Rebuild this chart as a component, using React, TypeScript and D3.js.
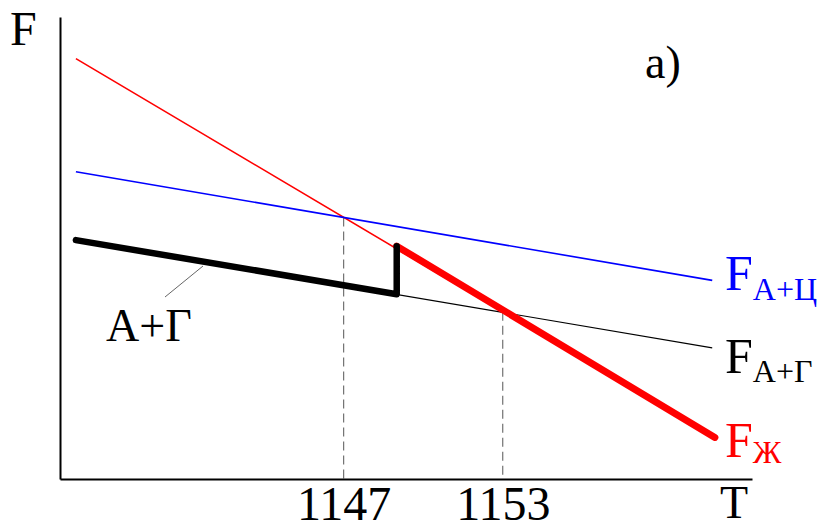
import { useEffect, useRef } from "react";
import { select, scaleLinear, axisBottom, axisLeft, line } from "d3";

// T values (x) and F values (y, arbitrary units)
const tTicks = [1147, 1153];
const redLine = [
  [1136.9, 91.0],
  [1161.0, 9.0],
];
const blueLine = [
  [1136.9, 66.5],
  [1160.9, 43.0],
];
const blackLine = [
  [1136.9, 51.7],
  [1160.9, 28.4],
];
// equilibrium path: A+Г branch, jump at ~1149, then liquid branch
const pathSolid = [
  [1136.9, 51.7],
  [1149.0, 40.0],
  [1149.0, 50.4],
];
const pathLiquid = [
  [1149.0, 50.4],
  [1161.0, 9.0],
];
const dropLines = [
  [1147, 56.6],
  [1153, 36.2],
];

const width = 825;
const height = 529;
const font = "'Times New Roman', 'Liberation Serif', 'DejaVu Serif', serif";

export default function App() {
  const svgRef = useRef<SVGSVGElement>(null);

  useEffect(() => {
    const svg = select(svgRef.current);
    svg.selectAll("*").remove();

    const x = scaleLinear().domain([1136.3, 1162.4]).range([60, 752]);
    const y = scaleLinear().domain([0, 100]).range([479, 17]);
    const ln = line<number[]>()
      .x((d) => x(d[0]))
      .y((d) => y(d[1]));

    // dashed drop lines
    svg
      .selectAll(".drop")
      .data(dropLines)
      .enter()
      .append("line")
      .attr("x1", (d) => x(d[0]))
      .attr("x2", (d) => x(d[0]))
      .attr("y1", (d) => y(d[1]))
      .attr("y2", y(0))
      .attr("stroke", "#555")
      .attr("stroke-width", 1)
      .attr("stroke-dasharray", "9,5");

    const thin = [
      { d: redLine, c: "#ff0000", w: 1.6 },
      { d: blueLine, c: "#0000ff", w: 1.6 },
      { d: blackLine, c: "#000", w: 1.2 },
    ];
    thin.forEach((l) => {
      svg
        .append("path")
        .attr("d", ln(l.d))
        .attr("fill", "none")
        .attr("stroke", l.c)
        .attr("stroke-width", l.w);
    });

    svg
      .append("path")
      .attr("d", ln(pathLiquid))
      .attr("fill", "none")
      .attr("stroke", "#ff0000")
      .attr("stroke-width", 7)
      .attr("stroke-linecap", "round");
    svg
      .append("path")
      .attr("d", ln(pathSolid))
      .attr("fill", "none")
      .attr("stroke", "#000")
      .attr("stroke-width", 6.5)
      .attr("stroke-linejoin", "round")
      .attr("stroke-linecap", "round");

    // axes
    const xAxis = svg
      .append("g")
      .attr("transform", `translate(0,${y(0)})`)
      .call(axisBottom(x).tickValues(tTicks).tickSize(0).tickPadding(7).tickFormat((d) => String(d)));
    xAxis.attr("font-family", null).attr("font-size", null);
    xAxis.select(".domain").attr("stroke", "#000").attr("stroke-width", 2);
    xAxis
      .selectAll("text")
      .style("font-family", font)
      .style("font-size", "48px")
      .attr("fill", "#000");

    const yAxis = svg
      .append("g")
      .attr("transform", `translate(${x.range()[0]},0)`)
      .call(axisLeft(y).tickValues([]).tickSize(0));
    yAxis.select(".domain").attr("stroke", "#000").attr("stroke-width", 2);

    const txt = (tx: number, ty: number, s: string, size: number, color = "#000") =>
      svg
        .append("text")
        .attr("x", tx)
        .attr("y", ty)
        .style("font-family", font)
        .style("font-size", `${size}px`)
        .attr("fill", color)
        .text(s);

    txt(10, 45, "F", 48);
    txt(720, 518, "T", 46);
    txt(645, 78, "а)", 46);
    txt(106, 341, "А+Г", 46);

    // leader line to the A+Г path
    svg
      .append("line")
      .attr("x1", 165)
      .attr("y1", 297)
      .attr("x2", 203)
      .attr("y2", 266)
      .attr("stroke", "#666")
      .attr("stroke-width", 1);

    const lbl = (ty: number, sub: string, color: string, subDy: number) => {
      const t = svg
        .append("text")
        .attr("x", 725)
        .attr("y", ty)
        .style("font-family", font)
        .attr("fill", color);
      t.append("tspan").style("font-size", "50px").text("F");
      t.append("tspan").style("font-size", "32px").attr("dy", subDy).text(sub);
    };
    lbl(290, "А+Ц", "#0000ff", 10);
    lbl(373, "А+Г", "#000", 9);
    lbl(457, "Ж", "#ff0000", 6);
  }, []);

  return (
    <svg
      ref={svgRef}
      width={width}
      height={height}
      style={{ position: "absolute", left: 0, top: 0, background: "#fff" }}
    />
  );
}
